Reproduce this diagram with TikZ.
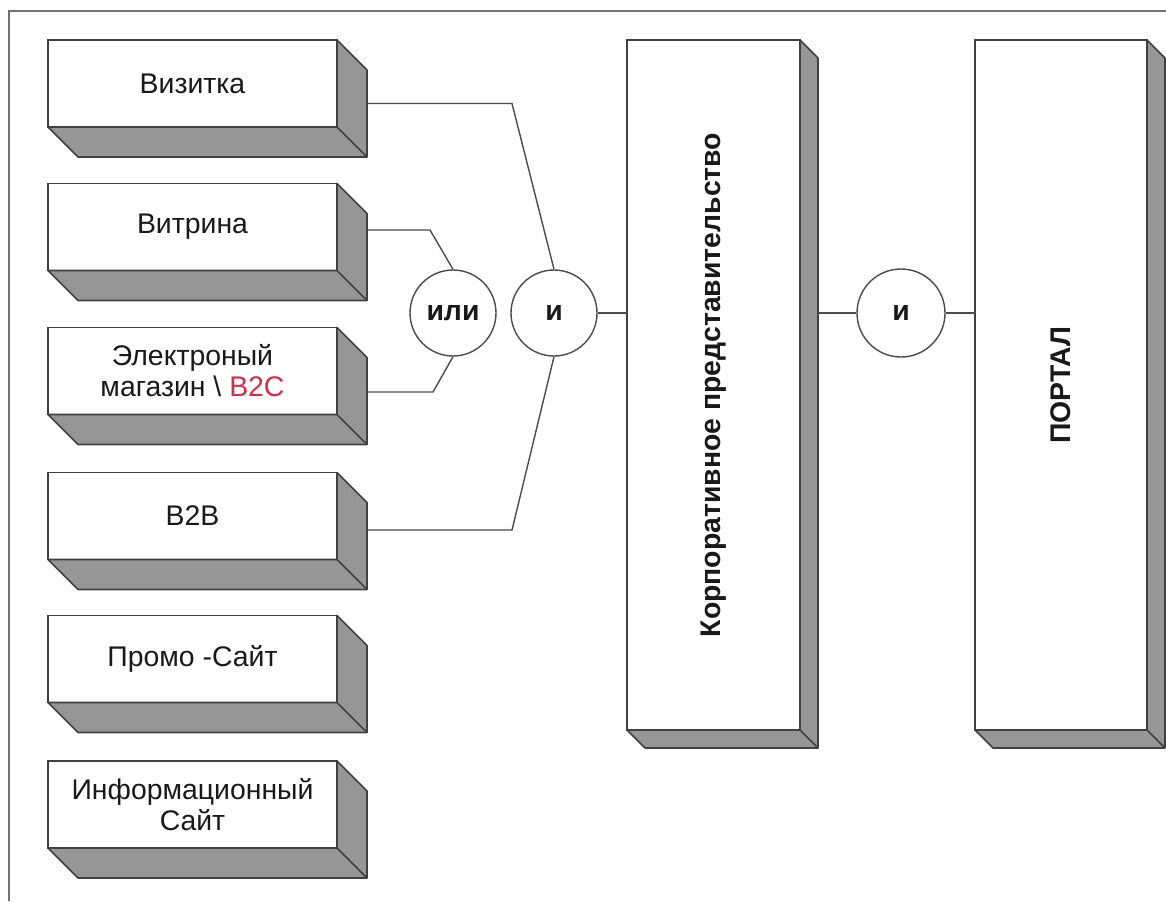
\documentclass[tikz,border=0pt]{standalone}
\usepackage{fontspec}
\setmainfont{Liberation Sans}
\usepackage{tikz}

\definecolor{shadegray}{RGB}{150,150,150}
\definecolor{btwoc}{RGB}{214,46,70}

% side and bottom faces of a block, #2 = depth
\newcommand{\depthface}[2]{%
\filldraw[fill=shadegray,draw=black!75,line width=0.8pt,line join=round]
  (#1.north east) -- ([shift={(#2,#2)}]#1.north east) -- ([shift={(#2,#2)}]#1.south east)
  -- ([shift={(#2,#2)}]#1.south west) -- (#1.south west) -- (#1.south east) -- cycle;
\draw[black!75,line width=0.8pt] (#1.south east) -- ([shift={(#2,#2)}]#1.south east);}

\begin{document}
\begin{tikzpicture}[x=0.5pt,y=-0.5pt,
  every node/.style={font=\fontsize{14.2}{15.5}\selectfont,text=black!90},
  block/.style={draw=black!75,line width=0.8pt,fill=white,inner sep=0pt,outer sep=0pt,
    minimum width=144.5pt,minimum height=43.5pt,align=center},
  tall/.style={block,minimum width=86.5pt,minimum height=345pt},
  gate/.style={circle,draw=black!70,line width=0.7pt,fill=white,minimum size=43pt,inner sep=0pt,
    font=\fontsize{14.2}{15.5}\selectfont\bfseries},
  wire/.style={draw=black!70,line width=0.7pt},
  frame/.style={draw=black!55,line width=1.1pt}]
\useasboundingbox (0,0) rectangle (1166,901);
\draw[frame] (9,901) -- (9,11) -- (1166,11);

% site types
\foreach \nm/\yy/\txt in {vizit/83.5/{Визитка}, vitr/227/{Витрина},
    shop/371/{Электроный\\магазин \textbackslash\ \textcolor{btwoc}{B2C}}, btwob/516/{B2B},
    promo/659/{Промо -Сайт}, info/804.5/{Информационный\\Сайт}}{
  \node[block] (\nm) at (192.5,\yy) {\txt};
  \depthface{\nm}{30}
}

\node[tall,label={[rotate=90,font=\fontsize{14.2}{15.5}\selectfont\bfseries]center:Корпоративное представительство}] (korp) at (713.5,385) {};
\depthface{korp}{18}
\node[tall,minimum width=86pt,label={[rotate=90,font=\fontsize{14.2}{15.5}\selectfont\bfseries]center:ПОРТАЛ}] (portal) at (1061,385) {};
\depthface{portal}{18}

\node[gate] (or) at (453,313) {или};
\node[gate] (and1) at (554,313) {и};
\node[gate,minimum size=44pt] (and2) at (901,313) {и};

\draw[wire] ([shift={(30,20)}]vizit.east) -- ++(145,0) -- (and1.north);
\draw[wire] ([shift={(30,3)}]vitr.east) -- ++(63,0) -- (or.north);
\draw[wire] ([shift={(30,21)}]shop.east) -- ++(66,0) -- (or.south);
\draw[wire] ([shift={(30,14)}]btwob.east) -- ++(145,0) -- (and1.south);
\draw[wire] (and1.east) -- (and1.east -| korp.west);
\coordinate (korpside) at ([shift={(18,0)}]korp.east);
\draw[wire] (korpside |- and2.west) -- (and2.west);
\draw[wire] (and2.east) -- (and2.east -| portal.west);
\end{tikzpicture}
\end{document}
